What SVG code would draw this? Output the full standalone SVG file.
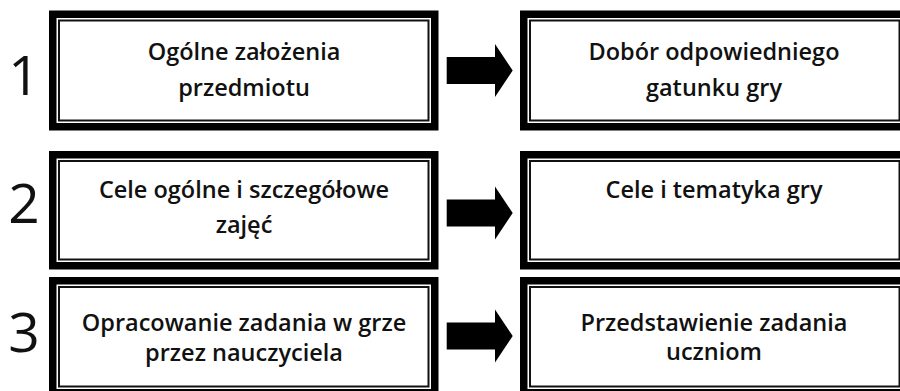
<svg xmlns="http://www.w3.org/2000/svg" width="900" height="391" viewBox="0 0 900 391">
<style>
.outer{fill:#fff;stroke:#000;stroke-width:7.5}
.inner{fill:none;stroke:#111;stroke-width:2}
.t{font-family:"Open Sans","Noto Sans","Liberation Sans",sans-serif;font-weight:600;font-size:23.5px;fill:#111;text-anchor:middle}
.n{font-family:"Open Sans","Noto Sans","Liberation Sans",sans-serif;font-weight:400;font-size:55px;fill:#111;text-anchor:middle}
.arr{fill:#000}
</style>
<rect width="900" height="391" fill="#fff"/>
<g id="num1"><text class="n" x="24" y="95">1</text></g>
<g id="num2"><text class="n" x="24" y="223">2</text></g>
<g id="num3"><text class="n" x="24" y="352">3</text></g>

<g id="box1a">
<rect class="outer" x="52.75" y="14.25" width="382" height="112.5"/>
<rect class="inner" x="59" y="20.5" width="369.5" height="100"/>
<text class="t" x="244" y="60">Ogólne założenia</text>
<text class="t" x="244" y="96">przedmiotu</text>
</g>
<g id="box1b">
<rect class="outer" x="523.75" y="14.25" width="382" height="112.5"/>
<rect class="inner" x="530" y="20.5" width="369.5" height="100"/>
<text class="t" x="714" y="60">Dobór odpowiedniego</text>
<text class="t" x="714" y="96">gatunku gry</text>
</g>
<g id="box2a">
<rect class="outer" x="52.75" y="154.75" width="382" height="111"/>
<rect class="inner" x="59" y="161" width="369.5" height="98.5"/>
<text class="t" x="244" y="198">Cele ogólne i szczegółowe</text>
<text class="t" x="244" y="233">zajęć</text>
</g>
<g id="box2b">
<rect class="outer" x="523.75" y="154.75" width="382" height="111"/>
<rect class="inner" x="530" y="161" width="369.5" height="98.5"/>
<text class="t" x="714" y="198">Cele i tematyka gry</text>
</g>
<g id="box3a">
<rect class="outer" x="52.75" y="280.75" width="382" height="112"/>
<rect class="inner" x="59" y="287" width="369.5" height="99.5"/>
<text class="t" x="244" y="331">Opracowanie zadania w grze</text>
<text class="t" x="244" y="361">przez nauczyciela</text>
</g>
<g id="box3b">
<rect class="outer" x="523.75" y="280.75" width="382" height="112"/>
<rect class="inner" x="530" y="287" width="369.5" height="99.5"/>
<text class="t" x="714" y="330.5">Przedstawienie zadania</text>
<text class="t" x="714" y="360">uczniom</text>
</g>

<g id="connectors">
<polygon class="arr" points="446.7,57 495,57 495,44 512.7,70.5 495,97 495,84 446.7,84"/>
<polygon class="arr" points="446.7,199.5 495,199.5 495,186.5 512.7,213 495,239.5 495,226.5 446.7,226.5"/>
<polygon class="arr" points="446.7,322.5 495,322.5 495,309.5 512.7,336 495,362.5 495,349.5 446.7,349.5"/>
</g>
</svg>
